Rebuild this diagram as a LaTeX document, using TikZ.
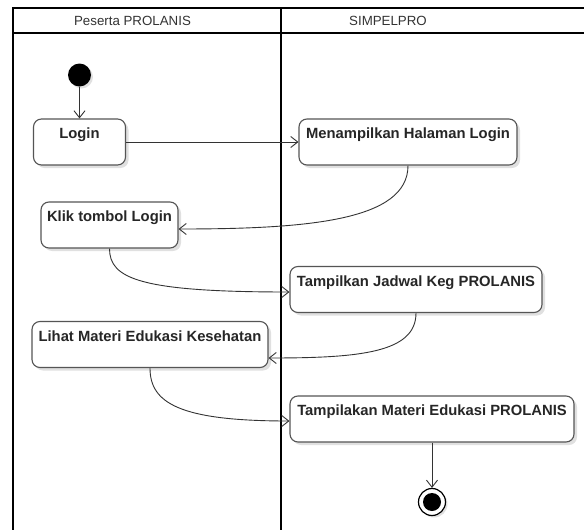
\documentclass[tikz,border=0pt]{standalone}
\usepackage{fontspec}
\setmainfont{Liberation Sans}
\usetikzlibrary{arrows.meta,shadows}
\definecolor{edgecol}{HTML}{333333}
\definecolor{boxline}{HTML}{555555}
\definecolor{hdrcol}{HTML}{333333}
\begin{document}
\begin{tikzpicture}[x=1pt,y=-1pt,
  lane/.style={draw=black, line width=2pt},
  hdrtext/.style={text=hdrcol, font=\fontsize{13.3}{15}\selectfont, inner sep=0pt},
  act/.style={draw=boxline, line width=1.1pt, rounded corners=8pt, fill=white,
    font=\fontsize{14.8}{16}\selectfont\bfseries, text=black!85,
    inner xsep=0pt, inner ysep=0pt, text height=19.5pt, text depth=26.5pt,
    drop shadow={shadow xshift=3pt, shadow yshift=-3pt, opacity=0.12, fill=black}},
  initnode/.style={circle, fill=black, minimum size=23pt, inner sep=0pt,
    drop shadow={shadow xshift=2pt, shadow yshift=-2pt, opacity=0.12, fill=black}},
  finalnode/.style={circle, draw=black, line width=1.2pt, fill=white, minimum size=27pt, inner sep=0pt,
    path picture={\fill[black] (path picture bounding box.center) circle (9pt);},
    drop shadow={shadow xshift=2pt, shadow yshift=-2pt, opacity=0.12, fill=black}},
  flow/.style={draw=edgecol, line width=0.9pt, -{Straight Barb[length=7pt,width=11pt,line width=0.9pt]}}
]
\useasboundingbox (0,0) rectangle (584,530);
\clip (0,0) rectangle (584,530);
\fill[white] (0,0) rectangle (584,530);

% swimlanes
\draw[lane] (13,540) -- (13,8) -- (600,8);
\draw[lane] (13,33) -- (600,33);
\draw[lane] (281,8) -- (281,540);
\node[hdrtext] (h1) at (132.5,20.5) {Peserta PROLANIS};
\node[hdrtext] (h2) at (388,20.5) {SIMPELPRO};

% nodes
\node[initnode] (init) at (79.5,75) {};
\node[act, minimum width=92pt] (login) at (79.5,142) {Login};
\node[act, minimum width=218pt] (menamp) at (408,142) {Menampilkan Halaman Login};
\node[act, minimum width=137pt] (klik) at (109.5,225) {Klik tombol Login};
\node[act, minimum width=252pt] (jadwal) at (416,289.5) {Tampilkan Jadwal Keg PROLANIS};
\node[act, minimum width=236pt] (lihat) at (150,344.5) {Lihat Materi Edukasi Kesehatan};
\node[act, minimum width=284pt] (materi) at (432,419) {Tampilakan Materi Edukasi PROLANIS};
\node[finalnode] (final) at (432,502) {};

% connectors
\draw[flow] (init) -- (login);
\draw[flow] (login) -- (menamp);
\draw[flow] (menamp.south) .. controls +(0,55) and +(130,0) .. ([yshift=-4pt]klik.east);
\draw[flow] (klik.south) .. controls +(0,30) and +(-150,0) .. ([yshift=-2.5pt]jadwal.west);
\draw[flow] (jadwal.south) .. controls +(0,40) and +(90,0) .. ([yshift=-13.5pt]lihat.east);
\draw[flow] (lihat.south) .. controls +(0,35) and +(-110,0) .. ([yshift=-2pt]materi.west);
\draw[flow] (materi) -- (final);
\end{tikzpicture}
\end{document}
